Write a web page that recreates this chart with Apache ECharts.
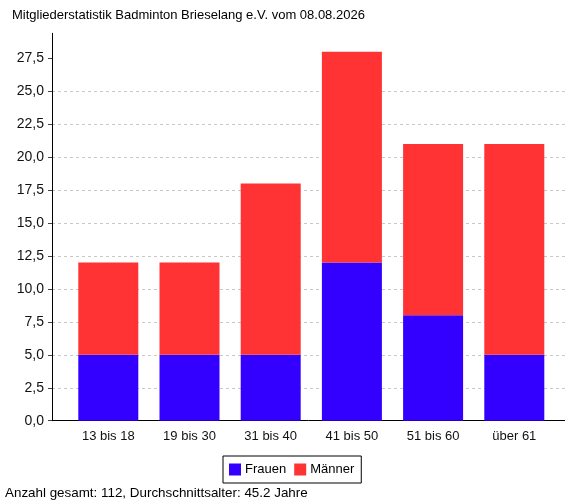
<!DOCTYPE html>
<html><head><meta charset="utf-8">
<script src="https://cdn.jsdelivr.net/npm/echarts@6/dist/echarts.min.js"></script>
<style>html,body{margin:0;padding:0;background:#fff}#c{width:565px;height:501px}</style>
</head><body><div id="c"></div>
<script>
const categories = ['13 bis 18','19 bis 30','31 bis 40','41 bis 50','51 bis 60','über 61'];
const frauen = [5, 5, 5, 12, 8, 5];
const maenner = [7, 7, 13, 16, 13, 16];
const yTicks = [0, 2.5, 5, 7.5, 10, 12.5, 15, 17.5, 20, 22.5, 25, 27.5];
const titleText = 'Mitgliederstatistik Badminton Brieselang e.V. vom 08.08.2026';
const footerText = 'Anzahl gesamt: 112, Durchschnittsalter: 45.2 Jahre';
const yMax = 29.4, yInterval = 2.5;
const FONT = "'Liberation Sans', Arial, sans-serif";

const chart = echarts.init(document.getElementById('c'), null, {renderer:'canvas'});
chart.setOption({
  animation:false,
  backgroundColor:'#fff',
  textStyle:{fontFamily:FONT},
  title:{text:titleText,left:7,top:4,textStyle:{fontSize:13,fontWeight:'normal',color:'#000',fontFamily:FONT}},
  graphic:[{type:'text',left:5,top:487,style:{text:footerText,font:"13.4px 'Liberation Sans', Arial, sans-serif",fill:'#000'}}],
  legend:{data:['Frauen','Männer'],left:223,top:456,orient:'horizontal',
    borderColor:'#000',borderWidth:1,borderRadius:0,padding:[7,7,7,6],
    itemWidth:12,itemHeight:12,itemGap:8,icon:'rect',
    textStyle:{fontSize:13,color:'#000',fontFamily:FONT,padding:[0,0,0,-1]}},
  grid:[
    {left:52,right:0,top:33.3,bottom:80.3,containLabel:false},
    {left:67.7,right:10.1,top:33.3,bottom:80.3,containLabel:false}
  ],
  xAxis:[
    {gridIndex:0,type:'category',data:categories,axisLine:{show:true,lineStyle:{color:'#000',width:1}},axisTick:{show:false},axisLabel:{show:false},splitLine:{show:false}},
    {gridIndex:1,type:'category',data:categories,axisLine:{show:false},axisTick:{show:false},
      axisLabel:{show:true,fontSize:13,color:'#111',fontFamily:FONT,margin:9},splitLine:{show:false}}
  ],
  yAxis:[
    {gridIndex:0,type:'value',min:0,max:yMax,interval:yInterval,
      axisLine:{show:true,lineStyle:{color:'#000',width:1}},
      axisTick:{show:true,length:4,customValues:yTicks,lineStyle:{color:'#444'}},
      axisLabel:{fontSize:14,color:'#111',fontFamily:FONT,margin:8,customValues:yTicks,
        formatter:v=>v.toFixed(1).replace('.',',')},
      splitLine:{show:true,showMaxLine:false,lineStyle:{color:'#c8c8c8',type:[3,3],width:1}}},
    {gridIndex:1,type:'value',min:0,max:yMax,interval:yInterval,show:false,splitLine:{show:false}}
  ],
  series:[
    {name:'Frauen',type:'bar',stack:'s',xAxisIndex:1,yAxisIndex:1,data:frauen,barWidth:60,
      itemStyle:{color:'#3300ff'}},
    {name:'Männer',type:'bar',stack:'s',xAxisIndex:1,yAxisIndex:1,data:maenner,barWidth:60,
      itemStyle:{color:'#ff3333'}}
  ]
});
</script></body></html>
